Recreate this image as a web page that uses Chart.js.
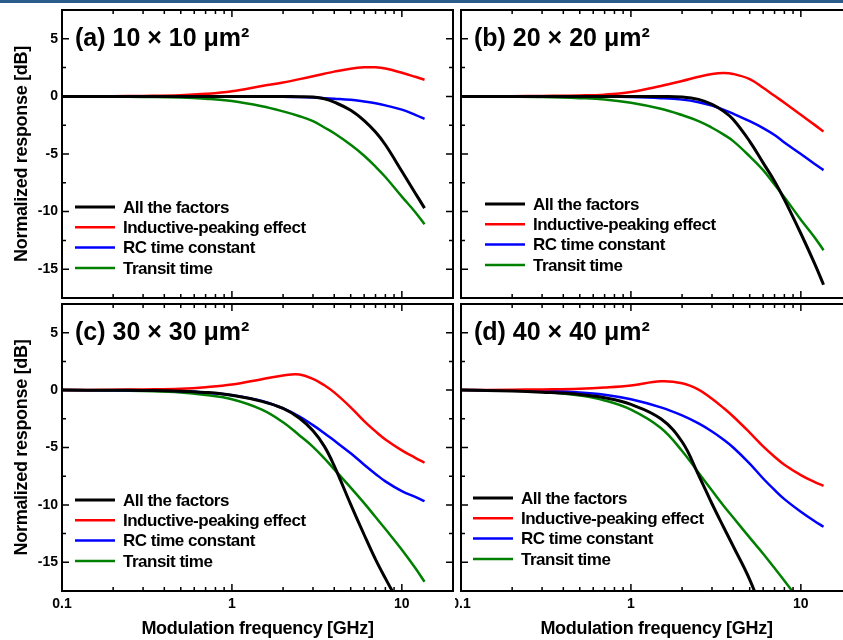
<!DOCTYPE html>
<html>
<head>
<meta charset="utf-8">
<script src="https://cdn.jsdelivr.net/npm/chart.js@4.4.1/dist/chart.umd.min.js"></script>
<style>
  html, body { margin: 0; padding: 0; background: #fff; }
  #wrap { position: relative; width: 843px; height: 640px; overflow: hidden; }
  #wrap canvas { position: absolute; }
  #bar { position: absolute; left: 0; top: 0; width: 843px; height: 3px; background: #2b5d8c; }
</style>
</head>
<body>
<div id="wrap">
  <canvas id="pa" width="455" height="301" style="left:0;top:0"></canvas>
  <canvas id="pb" width="400" height="301" style="left:455px;top:0"></canvas>
  <canvas id="pc" width="455" height="339" style="left:0;top:301px"></canvas>
  <canvas id="pd" width="400" height="339" style="left:455px;top:301px"></canvas>
  <div id="bar"></div>
</div>
<script>
// modulation frequency [GHz], shared by every curve
const freq = [0.1, 0.2, 0.3, 0.5, 0.7, 1, 1.5, 2, 2.5, 3, 3.5, 4, 5, 6, 7, 8, 10, 12, 13.6];

// (a) 10 x 10 um2
const allA  = [0, 0, 0, 0, 0, 0, 0, 0, -0.02, -0.05, -0.2, -0.5, -1.2, -2.1, -3.1, -4.2, -6.5, -8.4, -9.7];
const peakA = [0, 0.02, 0.04, 0.1, 0.22, 0.45, 0.9, 1.2, 1.5, 1.75, 1.97, 2.15, 2.4, 2.52, 2.53, 2.42, 2.05, 1.7, 1.45];
const rcA   = [0, 0, 0, 0, 0, -0.01, -0.02, -0.03, -0.06, -0.1, -0.15, -0.2, -0.3, -0.45, -0.6, -0.78, -1.15, -1.6, -1.95];
const trA   = [0, -0.02, -0.05, -0.1, -0.2, -0.4, -0.85, -1.3, -1.72, -2.15, -2.7, -3.2, -4.2, -5.15, -6.1, -7.0, -8.7, -10.05, -11.1];

// (b) 20 x 20 um2
const allB  = [0, 0, 0, 0, 0, 0, -0.01, -0.05, -0.26, -0.7, -1.28, -2.0, -3.9, -5.77, -7.36, -8.96, -11.9, -14.45, -16.35];
const peakB = [0, 0.02, 0.04, 0.08, 0.15, 0.38, 0.9, 1.33, 1.7, 1.94, 2.03, 1.95, 1.5, 0.75, 0.05, -0.55, -1.6, -2.45, -3.05];
const rcB   = [0, 0, 0, 0, -0.01, -0.05, -0.15, -0.28, -0.5, -0.8, -1.15, -1.5, -2.15, -2.75, -3.35, -4.0, -5.0, -5.85, -6.4];
const trB   = [0, -0.03, -0.06, -0.15, -0.26, -0.55, -1.07, -1.62, -2.14, -2.72, -3.3, -3.88, -5.2, -6.4, -7.65, -8.75, -10.7, -12.2, -13.35];

// (c) 30 x 30 um2
const allC  = [0, -0.01, -0.03, -0.09, -0.2, -0.45, -0.98, -1.6, -2.45, -3.55, -4.9, -6.6, -9.95, -12.6, -14.75, -16.4, -19.0, -21.0, -22.5];
const peakC = [0, 0.03, 0.06, 0.12, 0.25, 0.48, 0.95, 1.28, 1.36, 0.98, 0.42, -0.2, -1.5, -2.7, -3.6, -4.3, -5.25, -5.9, -6.33];
const rcC   = [0, -0.01, -0.03, -0.09, -0.2, -0.45, -0.95, -1.6, -2.3, -3.05, -3.75, -4.4, -5.5, -6.5, -7.3, -7.95, -8.8, -9.3, -9.68];
const trC   = [0, -0.03, -0.08, -0.2, -0.42, -0.8, -1.7, -2.8, -3.95, -4.94, -5.95, -6.9, -8.5, -9.85, -11.05, -12.1, -13.9, -15.5, -16.7];

// (d) 40 x 40 um2
const allD  = [0, -0.08, -0.18, -0.38, -0.67, -1.25, -2.5, -4.5, -7.4, -9.9, -11.9, -13.6, -16.5, -19.5, -22, -24, -28, -31, -33];
const peakD = [0, 0.03, 0.06, 0.12, 0.22, 0.4, 0.77, 0.6, 0.05, -0.75, -1.55, -2.3, -3.7, -4.9, -5.8, -6.5, -7.4, -8.0, -8.34];
const rcD   = [0, -0.03, -0.07, -0.2, -0.4, -0.8, -1.5, -2.2, -2.9, -3.6, -4.3, -5.0, -6.4, -7.7, -8.7, -9.5, -10.6, -11.4, -11.9];
const trD   = [0, -0.05, -0.12, -0.48, -0.9, -1.7, -3.3, -5.3, -7.2, -8.75, -10.05, -11.1, -12.85, -14.25, -15.5, -16.6, -18.5, -20.0, -21.0];

// axes
const yMajor = [-15, -10, -5, 0, 5];
const yMinor = [-12.5, -7.5, -2.5, 2.5];
const xMajor = [0.1, 1, 10];
const xMinor = [0.2, 0.3, 0.4, 0.5, 0.6, 0.7, 0.8, 0.9, 2, 3, 4, 5, 6, 7, 8, 9];
const xLabels = ["0.1", "1", "10"];

const seriesNames = ["All the factors", "Inductive-peaking effect", "RC time constant", "Transit time"];
const seriesColors = ["#000000", "#ff0000", "#0000ff", "#008000"];
const seriesWidths = [3, 2.5, 2.5, 2.5];

const FONT = '"Liberation Sans", Arial, sans-serif';

const framePlugin = {
  id: "frame",
  afterDraw(chart, args, o) {
    const { ctx, chartArea: a, scales: { x, y } } = chart;
    ctx.save();

    // ticks, all four sides, pointing in
    ctx.strokeStyle = "#000";
    ctx.lineWidth = 1.5;
    ctx.beginPath();
    const tick = (px, py, dx, dy) => { ctx.moveTo(px, py); ctx.lineTo(px + dx, py + dy); };
    yMajor.forEach(v => { const p = y.getPixelForValue(v); tick(a.left, p, 7, 0); tick(a.right, p, -7, 0); });
    yMinor.forEach(v => { const p = y.getPixelForValue(v); tick(a.left, p, 4, 0); tick(a.right, p, -4, 0); });
    xMajor.forEach(v => { const p = x.getPixelForValue(v); tick(p, a.top, 0, 7); tick(p, a.bottom, 0, -7); });
    xMinor.forEach(v => { const p = x.getPixelForValue(v); tick(p, a.top, 0, 4); tick(p, a.bottom, 0, -4); });
    ctx.stroke();

    ctx.lineWidth = 2;
    ctx.strokeRect(a.left, a.top, a.right - a.left, a.bottom - a.top);

    ctx.fillStyle = "#000";
    ctx.font = "bold 14px " + FONT;
    if (o.yLabels) {
      ctx.textAlign = "right";
      ctx.textBaseline = "middle";
      yMajor.forEach(v => ctx.fillText(String(v), a.left - 4, y.getPixelForValue(v)));
    }
    if (o.xLabels) {
      ctx.textAlign = "center";
      ctx.textBaseline = "middle";
      xMajor.forEach((v, i) => ctx.fillText(xLabels[i], x.getPixelForValue(v), a.bottom + 13));
    }

    ctx.font = "bold 18px " + FONT;
    ctx.letterSpacing = "-0.3px";
    if (o.yTitle) {
      ctx.save();
      ctx.translate(22, (a.top + a.bottom) / 2);
      ctx.rotate(-Math.PI / 2);
      ctx.textAlign = "center";
      ctx.textBaseline = "middle";
      ctx.fillText("Normalized response [dB]", 0, 0);
      ctx.restore();
    }
    if (o.xTitle) {
      ctx.textAlign = "center";
      ctx.textBaseline = "middle";
      ctx.fillText("Modulation frequency [GHz]", (a.left + a.right) / 2, a.bottom + 38);
    }

    // panel label
    ctx.letterSpacing = "0px";
    ctx.font = "bold 25px " + FONT;
    ctx.textAlign = "left";
    ctx.textBaseline = "alphabetic";
    ctx.fillText(o.title, a.left + 13, a.top + 36);

    // legend
    ctx.font = "bold 17px " + FONT;
    ctx.letterSpacing = "-0.5px";
    ctx.textBaseline = "middle";
    chart.data.datasets.forEach((ds, i) => {
      const ly = a.top + o.legendTop + i * 20.3;
      const lx = a.left + o.legendLeft;
      ctx.strokeStyle = ds.borderColor;
      ctx.lineWidth = ds.borderWidth;
      ctx.beginPath();
      ctx.moveTo(lx, ly);
      ctx.lineTo(lx + 40, ly);
      ctx.stroke();
      ctx.fillText(ds.label, lx + 48, ly + 1);
    });
    ctx.restore();
  }
};

function makePanel(id, series, opts, padding) {
  const datasets = series.map((vals, i) => ({
    label: seriesNames[i],
    data: freq.map((f, k) => ({ x: f, y: vals[k] })),
    borderColor: seriesColors[i],
    borderWidth: seriesWidths[i],
    borderJoinStyle: "round",
    pointRadius: 0,
    tension: 0.4,
    clip: 0
  }));
  return new Chart(document.getElementById(id), {
    type: "line",
    data: { datasets },
    options: {
      responsive: false,
      animation: false,
      layout: { padding },
      scales: {
        x: { type: "logarithmic", min: 0.1, max: 20, display: false },
        y: { type: "linear", min: -17.5, max: 7.5, display: false }
      },
      plugins: {
        legend: { display: false },
        tooltip: { enabled: false },
        frame: opts
      }
    },
    plugins: [framePlugin]
  });
}

makePanel("pa", [allA, peakA, rcA, trA],
  { title: "(a) 10 × 10 μm²", yLabels: true, yTitle: true, xLabels: false, xTitle: false, legendLeft: 13, legendTop: 197 },
  { left: 62, top: 10, right: 2, bottom: 3 });
makePanel("pb", [allB, peakB, rcB, trB],
  { title: "(b) 20 × 20 μm²", yLabels: false, yTitle: false, xLabels: false, xTitle: false, legendLeft: 24, legendTop: 194 },
  { left: 6, top: 10, right: 3, bottom: 3 });
makePanel("pc", [allC, peakC, rcC, trC],
  { title: "(c) 30 × 30 μm²", yLabels: true, yTitle: true, xLabels: true, xTitle: true, legendLeft: 13, legendTop: 196 },
  { left: 62, top: 3, right: 2, bottom: 49 });
makePanel("pd", [allD, peakD, rcD, trD],
  { title: "(d) 40 × 40 μm²", yLabels: false, yTitle: false, xLabels: true, xTitle: true, legendLeft: 12, legendTop: 194 },
  { left: 6, top: 3, right: 3, bottom: 49 });
</script>
</body>
</html>
